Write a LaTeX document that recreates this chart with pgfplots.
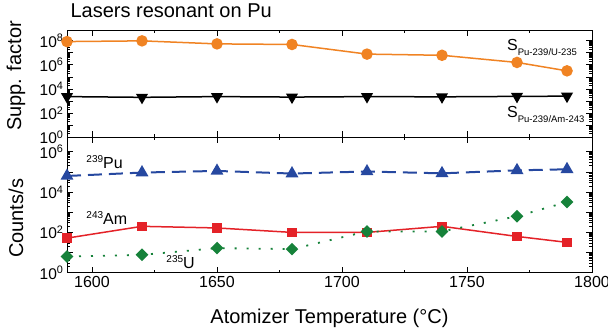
\documentclass[border=0pt]{standalone}
\usepackage{pgfplots}
\pgfplotsset{compat=1.18}
\usepackage{fontspec}
\setmainfont{Liberation Sans}
\definecolor{corange}{RGB}{240,131,35}
\definecolor{cblue}{RGB}{38,72,160}
\definecolor{cred}{RGB}{228,34,40}
\definecolor{cgreen}{RGB}{22,130,58}
\begin{document}
\begin{tikzpicture}
\path[use as bounding box] (0,0) rectangle (608pt,-330pt);
\begin{axis}[at={(67pt,-30pt)}, anchor=north west, height=107pt,
  scale only axis, width=525pt, xmin=1590, xmax=1800,
  ymode=log, ymin=1, ymax=8e8,
  xtick={1600,1650,1700,1750,1800},
  minor xtick={1625,1675,1725,1775},
  xticklabels={},
  tick align=inside, xtick pos=both, ytick pos=both,
  major tick length=6pt, minor tick length=3pt,
  axis line style={line width=1pt},
  tick style={black, line width=0.8pt},
  tick label style={font=\fontsize{15.5}{18}\selectfont},
  ytick={1,10,100,1e3,1e4,1e5,1e6,1e7,1e8},
  yticklabels={10\textsuperscript{0},,10\textsuperscript{2},,10\textsuperscript{4},,10\textsuperscript{6},,10\textsuperscript{8}},
  ylabel={Supp. factor},
  ylabel style={at={(axis description cs:-0.097,0.57)}, anchor=center, font=\fontsize{20}{24}\selectfont},
  title={Lasers resonant on Pu},
  title style={at={(axis description cs:0,1)}, anchor=base west, yshift=7pt, font=\fontsize{20}{24}\selectfont},
]
\addplot[corange, line width=1.5pt, mark=*, mark size=5pt] coordinates {
(1590,8.7e7) (1620,1.0e8) (1650,5.6e7) (1680,5.0e7) (1710,7.9e6) (1740,6.3e6) (1770,1.6e6) (1790,3.2e5)};
\addplot[black, line width=1.5pt, mark=triangle*, mark options={rotate=180}, mark size=5.5pt] coordinates {
(1590,2300) (1620,2000) (1650,2300) (1680,2100) (1710,2300) (1740,2200) (1770,2400) (1790,2500)};
\node[anchor=base west, inner sep=0pt, font=\fontsize{16}{18}\selectfont] at (axis cs:1766,1.55e7) {S\raisebox{-5pt}{\fontsize{9.5}{11}\selectfont Pu-239/U-235}};
\node[anchor=base west, inner sep=0pt, font=\fontsize{16}{18}\selectfont] at (axis cs:1766,44) {S\raisebox{-5pt}{\fontsize{9.5}{11}\selectfont Pu-239/Am-243}};
\end{axis}
\begin{axis}[at={(67pt,-137pt)}, anchor=north west, height=135.7pt,
  scale only axis, width=525pt, xmin=1590, xmax=1800,
  ymode=log, ymin=1, ymax=5.4e6,
  xtick={1600,1650,1700,1750,1800},
  minor xtick={1625,1675,1725,1775},
  tick align=inside, xtick pos=both, ytick pos=both,
  major tick length=6pt, minor tick length=3pt,
  axis line style={line width=1pt},
  tick style={black, line width=0.8pt},
  tick label style={font=\fontsize{15.5}{18}\selectfont},
  xticklabel style={font=\fontsize{16}{18}\selectfont},
  /pgf/number format/assume math mode=true,
  /pgf/number format/1000 sep={},
  ytick={1,10,100,1e3,1e4,1e5,1e6},
  yticklabels={10\textsuperscript{0},,10\textsuperscript{2},,10\textsuperscript{4},,10\textsuperscript{6}},
  ylabel={Counts/s},
  ylabel style={at={(axis description cs:-0.097,0.40)}, anchor=center, font=\fontsize{20}{24}\selectfont},
  xlabel={Atomizer Temperature (°C)},
  xlabel style={at={(axis description cs:0.5,-0.373)}, anchor=base, font=\fontsize{20}{24}\selectfont},
]
\addplot[cblue, mark=triangle*, mark size=5.5pt, dash pattern=on 14pt off 7pt, line width=2pt, mark options={solid}] coordinates {
(1590,6.3e4) (1620,9.3e4) (1650,1.12e5) (1680,8.3e4) (1710,1.05e5) (1740,8.5e4) (1770,1.2e5) (1790,1.35e5)};
\addplot[cred, line width=1.5pt, mark=square*, mark size=4pt] coordinates {
(1590,52) (1620,200) (1650,166) (1680,100) (1710,100) (1740,200) (1770,63) (1790,32)};
\addplot[cgreen, line width=1.8pt, mark=square*, mark size=3.6pt, mark options={rotate=45, solid}, dash pattern=on 2pt off 10pt] coordinates {
(1590,6.3) (1620,7.7) (1650,16.6) (1680,14.8) (1710,112) (1740,112) (1770,630) (1790,3200)};
\node[anchor=base west, inner sep=0pt, font=\fontsize{16}{18}\selectfont] at (axis cs:1597.7,1.48e5) {\raisebox{6pt}{\fontsize{10}{12}\selectfont 239}Pu};
\node[anchor=base west, inner sep=0pt, font=\fontsize{16}{18}\selectfont] at (axis cs:1597.7,243) {\raisebox{6pt}{\fontsize{10}{12}\selectfont 243}Am};
\node[anchor=base west, inner sep=0pt, font=\fontsize{16}{18}\selectfont] at (axis cs:1629.7,1.66) {\raisebox{6pt}{\fontsize{10}{12}\selectfont 235}U};
\end{axis}
\end{tikzpicture}
\end{document}
